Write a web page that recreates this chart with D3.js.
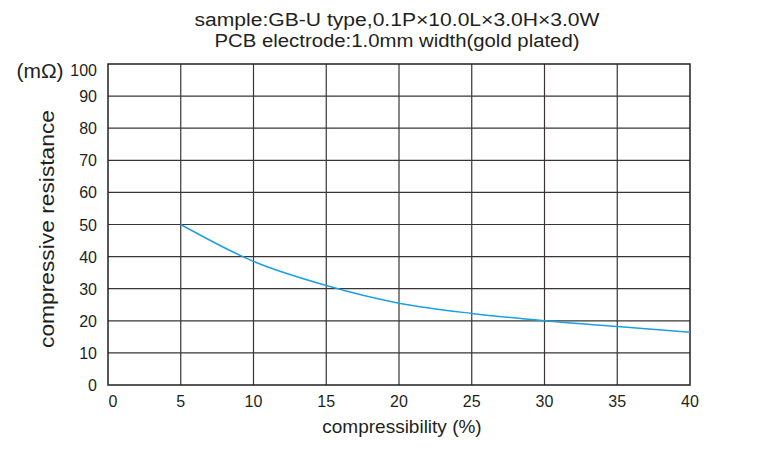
<!DOCTYPE html>
<html>
<head>
<meta charset="utf-8">
<script src="https://cdn.jsdelivr.net/npm/d3@7"></script>
<style>
  body { margin: 0; background: #fff; }
  svg text { font-family: "Liberation Sans", Arial, sans-serif; fill: #231f20; }
</style>
</head>
<body>
<svg width="780" height="450"></svg>
<script>
// values
var compress = [5, 10, 15, 20, 25, 30, 35, 40];
var resist = [50, 38.5, 31, 25.5, 22.3, 20, 18.2, 16.4];
var xTicks = [0, 5, 10, 15, 20, 25, 30, 35, 40];
var yTicks = [0, 10, 20, 30, 40, 50, 60, 70, 80, 90, 100];
var titleLines = ["sample:GB-U type,0.1P\u00d710.0L\u00d73.0H\u00d73.0W", "PCB electrode:1.0mm width(gold plated)"];
var titleWidths = [405, 365];

var svg = d3.select("svg");
var plotL = 108, plotR = 690, plotT = 64, plotB = 385;

var x = d3.scaleLinear().domain([0, 40]).range([plotL, plotR]);
var y = d3.scaleLinear().domain([0, 100]).range([plotB, plotT]);

// grid
svg.append("g").selectAll("line")
  .data(xTicks.slice(1, -1))
  .enter().append("line")
  .attr("x1", d => x(d)).attr("x2", d => x(d))
  .attr("y1", plotT).attr("y2", plotB)
  .attr("stroke", "#3a3434").attr("stroke-width", 1.2);

svg.append("g").selectAll("line")
  .data(yTicks.slice(1, -1))
  .enter().append("line")
  .attr("x1", plotL).attr("x2", plotR)
  .attr("y1", d => y(d)).attr("y2", d => y(d))
  .attr("stroke", "#3a3434").attr("stroke-width", 1.2);

svg.append("rect")
  .attr("x", plotL).attr("y", plotT)
  .attr("width", plotR - plotL).attr("height", plotB - plotT)
  .attr("fill", "none").attr("stroke", "#231f20").attr("stroke-width", 1.5);

// tick labels
svg.append("g").selectAll("text")
  .data(yTicks)
  .enter().append("text")
  .attr("x", plotL - 11).attr("y", d => y(d) + (d === 100 ? 12 : 6))
  .attr("text-anchor", "end")
  .attr("font-size", 16)
  .text(d => d);

svg.append("g").selectAll("text")
  .data(xTicks)
  .enter().append("text")
  .attr("x", d => x(d) + (d === 0 ? 5 : 0)).attr("y", plotB + 22)
  .attr("text-anchor", "middle")
  .attr("font-size", 16)
  .text(d => d);

// curve
var line = d3.line()
  .x((d, i) => x(compress[i]))
  .y(d => y(d))
  .curve(d3.curveMonotoneX);

svg.append("path")
  .datum(resist)
  .attr("d", line)
  .attr("fill", "none")
  .attr("stroke", "#1ba1e2")
  .attr("stroke-width", 1.5);

// titles and labels
svg.append("g").selectAll("text")
  .data(titleLines)
  .enter().append("text")
  .attr("x", 397).attr("y", (d, i) => 26 + i * 21)
  .attr("text-anchor", "middle")
  .attr("font-size", 18)
  .attr("textLength", (d, i) => titleWidths[i])
  .attr("lengthAdjust", "spacingAndGlyphs")
  .text(d => d);

svg.append("text")
  .attr("x", 40).attr("y", 78)
  .attr("text-anchor", "middle")
  .attr("font-size", 21)
  .text("(m\u03a9)");

svg.append("text")
  .attr("transform", "translate(54,229) rotate(-90)")
  .attr("text-anchor", "middle")
  .attr("font-size", 20)
  .attr("textLength", 238)
  .attr("lengthAdjust", "spacingAndGlyphs")
  .text("compressive resistance");

svg.append("text")
  .attr("x", 402).attr("y", 433)
  .attr("text-anchor", "middle")
  .attr("font-size", 19)
  .text("compressibility (%)");
</script>
</body>
</html>
